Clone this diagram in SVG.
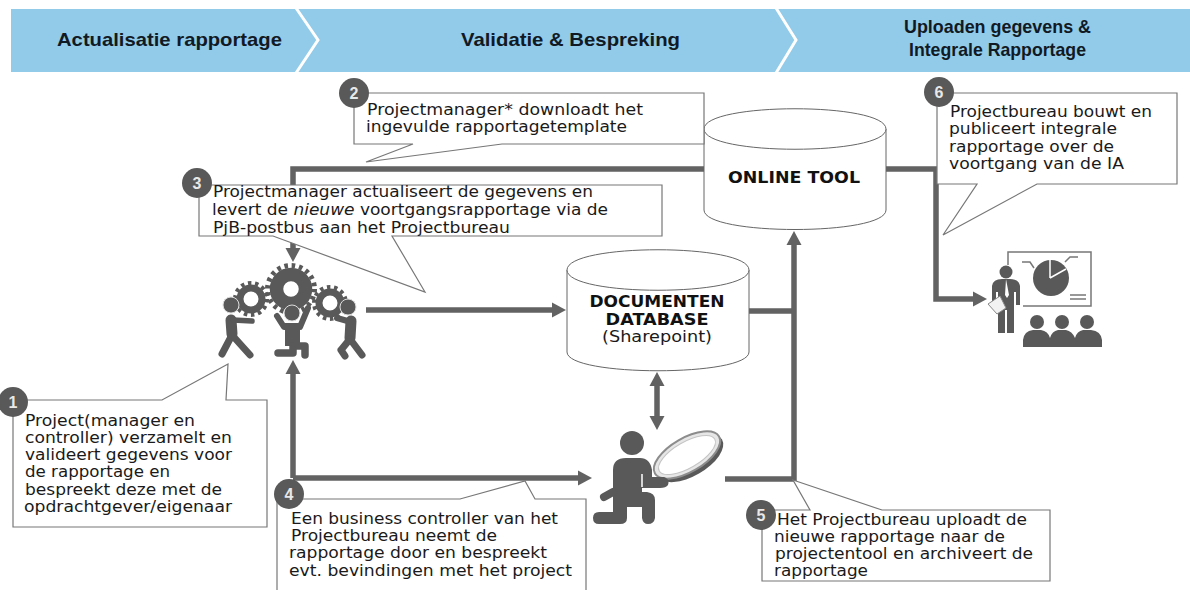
<svg xmlns="http://www.w3.org/2000/svg" width="1190" height="590" viewBox="0 0 1190 590">
<style>
text{font-family:"DejaVu Sans","Liberation Sans",sans-serif;font-size:16px;fill:#1a1a1a}
.h{font-family:"Liberation Sans",Arial,sans-serif;font-weight:bold;font-size:18.5px;fill:#111a24}
.c{fill:#fff;stroke:#777;stroke-width:1.2}
.cyl{fill:#fff;stroke:#666;stroke-width:1}
.con{fill:none;stroke:#626262;stroke-width:5.5}
.b{fill:#595959}
.n{font-family:"Liberation Sans",sans-serif;font-weight:bold;font-size:16px;fill:#e8e8e8;text-anchor:middle}
.t{font-weight:bold;font-size:16px;fill:#111;text-anchor:middle}
.i{fill:#595959;stroke:none}
.l{fill:none;stroke:#595959;stroke-linecap:round;stroke-linejoin:round}
.r{fill:#595959;stroke:#ddd;stroke-width:1}
.g{fill:none;stroke:#595959}
</style>
<defs>
<marker id="a" markerUnits="userSpaceOnUse" markerWidth="15" markerHeight="16" refX="4" refY="8" orient="auto-start-reverse"><path d="M0 0.5L14 8L0 15.5Z" fill="#626262"/></marker>
</defs>
<g id="header">
<rect x="11" y="9" width="1179" height="63" fill="#92cbe9"/>
<path d="M296 8L318 40L296 73M776 8L796 40L776 73" fill="none" stroke="#fff" stroke-width="3"/>
<text class="h" x="57" y="46" textLength="225" lengthAdjust="spacingAndGlyphs">Actualisatie rapportage</text>
<text class="h" x="461" y="46" textLength="219" lengthAdjust="spacingAndGlyphs">Validatie &amp; Bespreking</text>
<text class="h" x="904" y="33" textLength="187" lengthAdjust="spacingAndGlyphs">Uploaden gegevens &amp;</text>
<text class="h" x="909" y="56" textLength="177" lengthAdjust="spacingAndGlyphs">Integrale Rapportage</text>
</g>
<g id="connectors">
<path class="con" d="M293 185V169H936V299H977" marker-end="url(#a)"/>
<path class="con" d="M293 236V252" marker-end="url(#a)"/>
<path class="con" d="M293 478V370" marker-end="url(#a)"/>
<path class="con" d="M293 478H582" marker-end="url(#a)"/>
<path class="con" d="M366 310H556" marker-end="url(#a)"/>
<path class="con" d="M749 311H794M725 479H794"/>
<path class="con" d="M794 481V241" marker-end="url(#a)"/>
<path class="con" d="M657 382V420" marker-start="url(#a)" marker-end="url(#a)"/>
</g>
<g id="online-tool">
<path class="cyl" d="M704 129C704 102 886 102 886 129V210C886 236 704 236 704 210Z"/>
<path class="cyl" d="M704 129C704 156 886 156 886 129" fill="none"/>
<text class="t" x="794" y="183" textLength="132" lengthAdjust="spacingAndGlyphs">ONLINE TOOL</text>
</g>
<g id="documenten-database">
<path class="cyl" d="M567 270C567 243 749 243 749 270V352C749 377 567 377 567 352Z"/>
<path class="cyl" d="M567 270C567 297 749 297 749 270" fill="none"/>
<text class="t" x="657" y="307" textLength="135" lengthAdjust="spacingAndGlyphs">DOCUMENTEN</text>
<text class="t" x="657" y="325" textLength="103" lengthAdjust="spacingAndGlyphs">DATABASE</text>
<text x="657" y="342" text-anchor="middle" textLength="110" lengthAdjust="spacingAndGlyphs">(Sharepoint)</text>
</g>
<g id="gears-team">
<circle class="g" cx="251" cy="299" r="16" stroke-width="4" stroke-dasharray="3.5 3.68"/><circle class="g" cx="251" cy="299" r="11" stroke-width="7"/>
<circle class="g" cx="330" cy="303" r="16" stroke-width="4" stroke-dasharray="3.5 3.68"/><circle class="g" cx="330" cy="303" r="11" stroke-width="7"/>
<circle class="g" cx="291" cy="289" r="23.5" stroke-width="5" stroke-dasharray="3.6 3.78"/><circle class="g" cx="291" cy="289" r="14.5" stroke-width="13.5"/>
<circle class="r" cx="231" cy="305" r="8"/><path class="l" stroke-width="11" d="M231 320L232 334"/><path class="l" stroke-width="5.5" d="M233 320L252 321"/><path class="l" stroke-width="7" d="M222 354L232 335L250 355"/>
<circle class="r" cx="292" cy="313" r="8"/><path class="l" stroke-width="6" d="M277 316L284 327H300L308 308"/><path class="i" d="M285 323H300V346H285Z"/><path class="l" stroke-width="7.5" d="M278 353H293V346H305V355"/>
<circle class="r" cx="348" cy="307" r="8"/><path class="l" stroke-width="11" d="M351 321L350 338"/><path class="l" stroke-width="6" d="M351 322L337 318"/><path class="l" stroke-width="7" d="M341 350L350 339L362 355M341 350L345 356"/>
</g>
<g id="reviewer">
<ellipse cx="690" cy="458" rx="37" ry="18" transform="rotate(-30 690 458)" fill="#595959"/>
<ellipse cx="687" cy="455" rx="37" ry="17" transform="rotate(-30 687 455)" fill="#e6e6e6" stroke="#8c8c8c" stroke-width="2"/>
<ellipse cx="687" cy="455" rx="32" ry="13" transform="rotate(-30 687 455)" fill="#fff" stroke="#c4c4c4"/>
<circle class="i" cx="632" cy="443" r="12"/>
<path class="i" d="M613 470Q613 458 626 458H640Q650 458 652 470V477H664Q670 479 668 485Q666 488 660 488H642V492H647Q655 493 655 500V518Q654 524 648 524Q643 524 642 518V507H627V518Q627 524 620 524H599Q593 524 593 518Q593 512 599 512H613Z"/>
<path class="l" stroke-width="8" d="M604 497L613 492"/>
<path d="M642 474V487" stroke="#fff" stroke-width="1.5"/>
</g>
<g id="presenter">
<path d="M1008 265V252H1091V306H1023" fill="none" stroke="#777" stroke-width="1.5"/>
<circle class="i" cx="1051" cy="278" r="18"/>
<path d="M1050 278V259M1050 278L1066 269" stroke="#fff" stroke-width="1.5" fill="none"/>
<path d="M1022 262h8l4 6M1078 257h-8l-5 5M1070 295h16M1070 299h16" stroke="#777" stroke-width="1.5" fill="none"/>
<circle class="i" cx="1006" cy="272" r="6.5"/>
<path class="i" d="M992 286Q993 279 1002 279H1010Q1019 279 1020 286V305H1016V292H1014V333H1007V310H1005V333H998V292H996V305H992Z"/>
<path d="M1006 279L1005 295L1007 298L1009 295Z" fill="#fff"/>
<path d="M988 304L1000 296L1006 308L997 314Z" fill="#f2f2f2" stroke="#888"/>
<circle class="i" cx="1037" cy="322" r="7"/><circle class="i" cx="1062" cy="322" r="7"/><circle class="i" cx="1087" cy="322" r="7"/>
<path class="i" d="M1023 347V340Q1024 331 1033 330H1041Q1048 331 1050 338Q1052 331 1058 330H1066Q1072 331 1075 338Q1077 331 1083 330H1091Q1101 331 1102 340V347Z"/>
</g>
<g id="callout-1">
<path class="c" d="M13 400H162L228 364L226 400H267V527H13Z"/>
<circle class="b" cx="13" cy="402" r="15"/><text class="n" x="13" y="408">1</text>
<text x="25" y="426" textLength="170" lengthAdjust="spacingAndGlyphs">Project(manager en</text>
<text x="25" y="443" textLength="207" lengthAdjust="spacingAndGlyphs">controller) verzamelt en</text>
<text x="25" y="460" textLength="207" lengthAdjust="spacingAndGlyphs">valideert gegevens voor</text>
<text x="25" y="477" textLength="145" lengthAdjust="spacingAndGlyphs">de rapportage en</text>
<text x="25" y="495" textLength="197" lengthAdjust="spacingAndGlyphs">bespreekt deze met de</text>
<text x="24" y="512" textLength="208" lengthAdjust="spacingAndGlyphs">opdrachtgever/eigenaar</text>
</g>
<g id="callout-2">
<path class="c" d="M354 93H704V144H502L366 162L413 144H354Z"/>
<circle class="b" cx="354" cy="93" r="15"/><text class="n" x="354" y="99">2</text>
<text x="367" y="115" textLength="276" lengthAdjust="spacingAndGlyphs">Projectmanager* downloadt het</text>
<text x="366" y="132" textLength="261" lengthAdjust="spacingAndGlyphs">ingevulde rapportagetemplate</text>
</g>
<g id="callout-3">
<path class="c" d="M199 185H662V236H392L425 292L273 236H199Z"/>
<circle class="b" cx="197" cy="183" r="15"/><text class="n" x="197" y="189">3</text>
<text x="213" y="197" textLength="380" lengthAdjust="spacingAndGlyphs">Projectmanager actualiseert de gegevens en</text>
<text x="212" y="215" textLength="396" lengthAdjust="spacingAndGlyphs">levert de <tspan font-style="italic">nieuwe</tspan> voortgangsrapportage via de</text>
<text x="213" y="233" textLength="297" lengthAdjust="spacingAndGlyphs">PjB-postbus aan het Projectbureau</text>
</g>
<g id="callout-4">
<path class="c" d="M277 590V499H460L525 481L535 499H586V590"/>
<circle class="b" cx="289" cy="494" r="15"/><text class="n" x="289" y="500">4</text>
<text x="291" y="524" textLength="267" lengthAdjust="spacingAndGlyphs">Een business controller van het</text>
<text x="291" y="541" textLength="206" lengthAdjust="spacingAndGlyphs">Projectbureau neemt de</text>
<text x="289" y="558" textLength="258" lengthAdjust="spacingAndGlyphs">rapportage door en bespreekt</text>
<text x="289" y="576" textLength="283" lengthAdjust="spacingAndGlyphs">evt. bevindingen met het project</text>
</g>
<g id="callout-5">
<path class="c" d="M762 510H810L793 480L882 510H1050V581H762Z"/>
<circle class="b" cx="761" cy="515" r="15"/><text class="n" x="761" y="521">5</text>
<text x="777" y="525" textLength="250" lengthAdjust="spacingAndGlyphs">Het Projectbureau uploadt de</text>
<text x="774" y="542" textLength="231" lengthAdjust="spacingAndGlyphs">nieuwe rapportage naar de</text>
<text x="775" y="559" textLength="258" lengthAdjust="spacingAndGlyphs">projectentool en archiveert de</text>
<text x="774" y="576" textLength="94" lengthAdjust="spacingAndGlyphs">rapportage</text>
</g>
<g id="callout-6">
<path class="c" d="M937 93H1177V184H1037L943 235L977 184H937Z"/>
<circle class="b" cx="939" cy="92" r="15"/><text class="n" x="939" y="98">6</text>
<text x="950" y="117" textLength="202" lengthAdjust="spacingAndGlyphs">Projectbureau bouwt en</text>
<text x="949" y="134" textLength="168" lengthAdjust="spacingAndGlyphs">publiceert integrale</text>
<text x="949" y="152" textLength="165" lengthAdjust="spacingAndGlyphs">rapportage over de</text>
<text x="949" y="169" textLength="175" lengthAdjust="spacingAndGlyphs">voortgang van de IA</text>
</g>
</svg>
